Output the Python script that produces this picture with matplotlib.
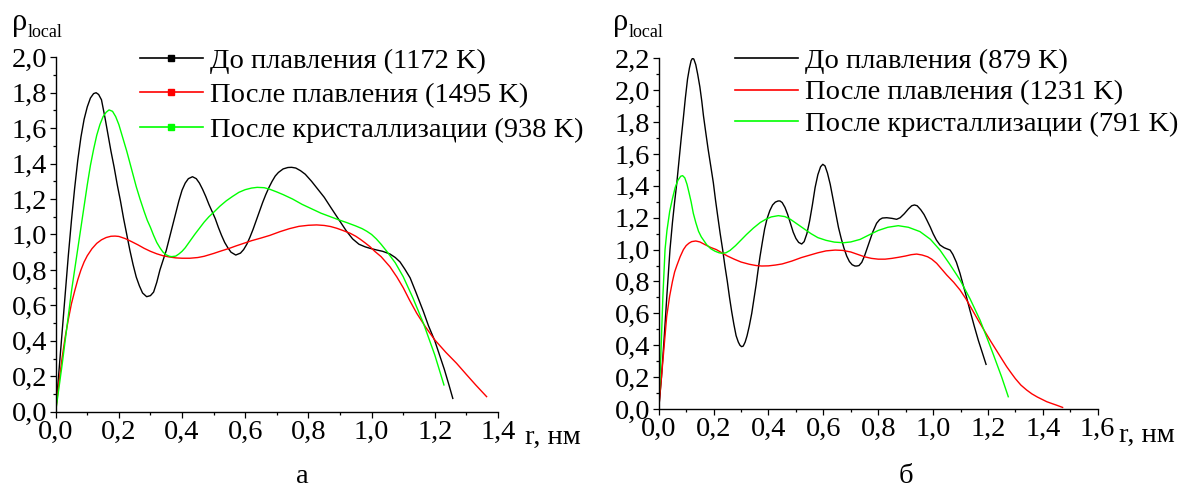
import numpy as np
import matplotlib
matplotlib.use("Agg")
import matplotlib.pyplot as plt
from matplotlib.lines import Line2D
from matplotlib.ticker import MultipleLocator, FuncFormatter

plt.rcParams['font.family'] = ['Liberation Serif', 'DejaVu Serif']

# панель а: до плавления
r_a_black = [0, 0.01, 0.02, 0.03, 0.04, 0.05, 0.06, 0.07, 0.08, 0.09, 0.10, 0.11, 0.12, 0.128,
             0.136, 0.145, 0.156, 0.165, 0.175, 0.185, 0.195, 0.205, 0.215, 0.225, 0.235, 0.245,
             0.255, 0.265, 0.275, 0.288, 0.30, 0.31, 0.32, 0.33, 0.34, 0.35, 0.36, 0.37, 0.38,
             0.39, 0.40, 0.41, 0.42, 0.433, 0.445, 0.455, 0.465, 0.475, 0.485, 0.495, 0.505,
             0.515, 0.525, 0.535, 0.545, 0.555, 0.57, 0.585, 0.595, 0.605, 0.615, 0.625, 0.635,
             0.645, 0.655, 0.665, 0.675, 0.685, 0.695, 0.705, 0.72, 0.735, 0.747, 0.76, 0.775,
             0.79, 0.81, 0.83, 0.85, 0.87, 0.897, 0.92, 0.94, 0.96, 0.98, 0.995, 1.015, 1.035,
             1.058, 1.075, 1.09, 1.105, 1.122, 1.14, 1.164, 1.18, 1.2, 1.215, 1.23, 1.245, 1.257]
v_a_black = [0, 0.22, 0.44, 0.66, 0.88, 1.08, 1.26, 1.42, 1.55, 1.65, 1.72, 1.77, 1.795, 1.80,
             1.79, 1.76, 1.66, 1.57, 1.47, 1.38, 1.28, 1.19, 1.09, 1.0, 0.91, 0.83,
             0.76, 0.71, 0.67, 0.649, 0.655, 0.675, 0.73, 0.80, 0.855, 0.91, 0.98, 1.05, 1.12,
             1.19, 1.25, 1.29, 1.315, 1.326, 1.315, 1.29, 1.255, 1.215, 1.17, 1.13, 1.09,
             1.04, 0.995, 0.955, 0.925, 0.90, 0.884, 0.895, 0.915, 0.945, 0.985, 1.03, 1.08,
             1.13, 1.18, 1.225, 1.265, 1.30, 1.33, 1.35, 1.37, 1.378, 1.379, 1.375, 1.36,
             1.34, 1.30, 1.255, 1.21, 1.155, 1.082, 1.02, 0.975, 0.945, 0.93, 0.922, 0.913, 0.905,
             0.89, 0.87, 0.845, 0.805, 0.755, 0.675, 0.565, 0.485, 0.40, 0.32, 0.24, 0.15, 0.075]

# панель а: после плавления
r_a_red = [0, 0.01, 0.02, 0.03, 0.04, 0.05, 0.06, 0.07, 0.08, 0.09, 0.10, 0.115, 0.13, 0.145,
           0.16, 0.175, 0.188, 0.20, 0.22, 0.24, 0.26, 0.28, 0.30, 0.32, 0.34, 0.36, 0.38, 0.40,
           0.425, 0.45, 0.47, 0.50, 0.52, 0.55, 0.57, 0.60, 0.62, 0.65, 0.678, 0.71, 0.74, 0.77,
           0.80, 0.826, 0.85, 0.87, 0.89, 0.91, 0.932, 0.95, 0.965, 0.98, 0.995, 1.01, 1.03,
           1.058, 1.08, 1.1, 1.12, 1.143, 1.17, 1.2, 1.235, 1.269, 1.3, 1.33, 1.364]
v_a_red = [0, 0.16, 0.30, 0.42, 0.52, 0.61, 0.68, 0.745, 0.80, 0.845, 0.88, 0.92, 0.95, 0.97,
           0.983, 0.99, 0.991, 0.989, 0.977, 0.96, 0.942, 0.922, 0.905, 0.891, 0.88, 0.873, 0.868,
           0.866, 0.866, 0.87, 0.877, 0.893, 0.905, 0.922, 0.935, 0.953, 0.965, 0.98, 0.995, 1.016,
           1.033, 1.046, 1.052, 1.054, 1.051, 1.045, 1.035, 1.022, 1.007, 0.99, 0.972, 0.952,
           0.931, 0.905, 0.875, 0.818, 0.76, 0.70, 0.63, 0.555, 0.48, 0.405, 0.335, 0.273, 0.21,
           0.15, 0.085]

# панель а: после кристаллизации
r_a_green = [0, 0.01, 0.02, 0.03, 0.04, 0.05, 0.06, 0.07, 0.08, 0.09, 0.10, 0.11, 0.12, 0.13,
             0.14, 0.15, 0.16, 0.169, 0.18, 0.19, 0.20, 0.21, 0.225, 0.24, 0.255, 0.267, 0.28,
             0.29, 0.30, 0.31, 0.32, 0.33, 0.34, 0.35, 0.36, 0.367, 0.38, 0.39, 0.40, 0.41, 0.42,
             0.43, 0.44, 0.455, 0.47, 0.485, 0.50, 0.52, 0.54, 0.56, 0.58, 0.60, 0.62, 0.638,
             0.66, 0.678, 0.70, 0.72, 0.75, 0.78, 0.81, 0.84, 0.87, 0.897, 0.92, 0.95, 0.97,
             0.985, 1.0, 1.015, 1.03, 1.048, 1.075, 1.1, 1.13, 1.164, 1.2, 1.229]
v_a_green = [0, 0.13, 0.26, 0.40, 0.54, 0.68, 0.80, 0.92, 1.04, 1.16, 1.28, 1.39, 1.48, 1.56,
             1.62, 1.665, 1.69, 1.703, 1.695, 1.665, 1.62, 1.56, 1.47, 1.37, 1.27, 1.20, 1.13,
             1.08, 1.04, 0.995, 0.955, 0.925, 0.90, 0.885, 0.877, 0.875, 0.878, 0.89, 0.905,
             0.925, 0.95, 0.975, 1.0, 1.035, 1.07, 1.10, 1.125, 1.16, 1.19, 1.215, 1.238, 1.253,
             1.262, 1.266, 1.264, 1.255, 1.24, 1.225, 1.20, 1.17, 1.145, 1.12, 1.10, 1.082, 1.068,
             1.048, 1.033, 1.018, 1.0, 0.975, 0.945, 0.905, 0.84, 0.762, 0.645, 0.499, 0.32, 0.151]

# панель б: до плавления
r_b_black = [0, 0.01, 0.02, 0.03, 0.041, 0.05, 0.058, 0.066, 0.074, 0.082, 0.09, 0.097, 0.105,
             0.112, 0.118, 0.123, 0.128, 0.135, 0.142, 0.15, 0.157, 0.163, 0.171, 0.18, 0.19,
             0.199, 0.207, 0.215, 0.224, 0.233, 0.241, 0.25, 0.258, 0.266, 0.274, 0.282, 0.29,
             0.296, 0.302, 0.308, 0.315, 0.322, 0.33, 0.339, 0.347, 0.355, 0.362, 0.369, 0.378,
             0.386, 0.395, 0.405, 0.415, 0.425, 0.435, 0.442, 0.45, 0.46, 0.47, 0.48, 0.49, 0.50,
             0.51, 0.521, 0.53, 0.54, 0.55, 0.56, 0.57, 0.58, 0.59, 0.598, 0.606, 0.615, 0.625,
             0.635, 0.645, 0.655, 0.665, 0.675, 0.685, 0.695, 0.705, 0.715, 0.722, 0.73, 0.74,
             0.75, 0.76, 0.77, 0.78, 0.794, 0.805, 0.815, 0.831, 0.85, 0.867, 0.88, 0.895, 0.91,
             0.922, 0.932, 0.942, 0.955, 0.967, 0.977, 0.99, 1.0, 1.012, 1.025, 1.04, 1.05, 1.062,
             1.072, 1.085, 1.098, 1.11, 1.122, 1.134, 1.15, 1.165, 1.18, 1.193]
v_b_black = [0, 0.20, 0.45, 0.72, 1.0, 1.17, 1.30, 1.42, 1.56, 1.70, 1.83, 1.95, 2.07,
             2.14, 2.185, 2.20, 2.195, 2.16, 2.10, 2.02, 1.93, 1.84, 1.74, 1.63, 1.52,
             1.42, 1.31, 1.21, 1.10, 1.0, 0.90, 0.80, 0.70, 0.61, 0.53, 0.46, 0.42,
             0.40, 0.391, 0.395, 0.42, 0.46, 0.52, 0.60, 0.69, 0.78, 0.87, 0.955, 1.05,
             1.13, 1.195, 1.245, 1.28, 1.298, 1.305, 1.305, 1.295, 1.265, 1.22, 1.165, 1.11, 1.07,
             1.045, 1.035, 1.05, 1.10, 1.18, 1.28, 1.39, 1.47, 1.52, 1.535, 1.525, 1.48, 1.41,
             1.32, 1.23, 1.14, 1.07, 1.01, 0.96, 0.925, 0.905, 0.897, 0.897, 0.90, 0.92,
             0.96, 1.01, 1.06, 1.11, 1.165, 1.188, 1.198, 1.20, 1.196, 1.19, 1.20, 1.225, 1.255,
             1.275, 1.28, 1.275, 1.25, 1.22, 1.186, 1.14, 1.10, 1.06, 1.029, 1.012, 1.005, 0.997,
             0.97, 0.92, 0.851, 0.775, 0.70, 0.621, 0.52, 0.43, 0.35, 0.28]

# панель б: после плавления
r_b_red = [0, 0.01, 0.02, 0.029, 0.04, 0.05, 0.058, 0.066, 0.078, 0.09, 0.10, 0.11, 0.12, 0.135,
           0.15, 0.17, 0.19, 0.21, 0.23, 0.25, 0.275, 0.30, 0.33, 0.355, 0.375, 0.40, 0.425,
           0.45, 0.485, 0.52, 0.55, 0.58, 0.61, 0.643, 0.67, 0.70, 0.725, 0.75, 0.775, 0.80,
           0.825, 0.85, 0.875, 0.90, 0.92, 0.94, 0.96, 0.98, 0.995, 1.013, 1.03, 1.05, 1.075,
           1.098, 1.12, 1.14, 1.165, 1.189, 1.21, 1.23, 1.25, 1.268, 1.285, 1.30, 1.32, 1.341,
           1.36, 1.38, 1.40, 1.414, 1.43, 1.45, 1.472]
v_b_red = [0, 0.20, 0.40, 0.58, 0.71, 0.80, 0.86, 0.90, 0.955, 1.0, 1.025, 1.04, 1.05, 1.054,
           1.048, 1.03, 1.013, 1.0, 0.98, 0.96, 0.94, 0.922, 0.908, 0.90, 0.897, 0.898, 0.903,
           0.91, 0.928, 0.95, 0.965, 0.98, 0.992, 0.997, 0.995, 0.985, 0.97, 0.955, 0.945, 0.94,
           0.94, 0.945, 0.952, 0.96, 0.968, 0.972, 0.966, 0.955, 0.94, 0.914, 0.88, 0.84, 0.795,
           0.747, 0.69, 0.63, 0.555, 0.485, 0.425, 0.37, 0.315, 0.266, 0.225, 0.19, 0.15, 0.119,
           0.095, 0.075, 0.058, 0.046, 0.036, 0.024, 0.01]

# панель б: после кристаллизации
r_b_green = [0, 0.008, 0.015, 0.023, 0.03, 0.04, 0.05, 0.06, 0.07, 0.08, 0.087, 0.095, 0.103,
             0.11, 0.118, 0.126, 0.135, 0.145, 0.155, 0.163, 0.175, 0.19, 0.205, 0.22, 0.23,
             0.245, 0.26, 0.28, 0.30, 0.32, 0.345, 0.37, 0.39, 0.41, 0.436, 0.46, 0.48, 0.505,
             0.53, 0.555, 0.58, 0.61, 0.64, 0.673, 0.70, 0.734, 0.77, 0.80, 0.835, 0.873, 0.91,
             0.952, 0.99, 1.025, 1.06, 1.098, 1.135, 1.171, 1.2, 1.22, 1.25, 1.274]
v_b_green = [0, 0.35, 0.70, 1.0, 1.12, 1.24, 1.32, 1.39, 1.435, 1.46, 1.464, 1.45, 1.41,
             1.36, 1.30, 1.228, 1.17, 1.115, 1.08, 1.06, 1.03, 1.005, 0.99, 0.98, 0.977,
             0.98, 0.995, 1.025, 1.06, 1.095, 1.135, 1.17, 1.19, 1.205, 1.213, 1.207, 1.19, 1.16,
             1.13, 1.10, 1.075, 1.058, 1.047, 1.043, 1.048, 1.064, 1.095, 1.12, 1.14, 1.15, 1.14,
             1.113, 1.065, 0.997, 0.91, 0.81, 0.69, 0.558, 0.43, 0.34, 0.20, 0.077]

labels_a = ['До плавления (1172 K)', 'После плавления (1495 K)', 'После кристаллизации (938 K)']
labels_b = ['До плавления (879 K)', 'После плавления (1231 K)', 'После кристаллизации (791 K)']
colors = ['black', '#ff0000', '#00ff00']

FS = 20.5
fig = plt.figure(figsize=(11.82, 4.90), dpi=100)
ax1 = fig.add_axes([0.0471, 0.1598, 0.3742, 0.7233])
ax2 = fig.add_axes([0.5573, 0.1653, 0.3714, 0.7157])

comma = FuncFormatter(lambda v, p: f"{v:.1f}".replace('.', ','))


def style(ax, xmax, ymax):
    ax.set_xlim(0, xmax)
    ax.set_ylim(0, ymax)
    ax.spines['top'].set_visible(False)
    ax.spines['right'].set_visible(False)
    for s in ('left', 'bottom'):
        ax.spines[s].set_linewidth(1.0)
    ax.xaxis.set_major_locator(MultipleLocator(0.2))
    ax.xaxis.set_minor_locator(MultipleLocator(0.1))
    ax.yaxis.set_major_locator(MultipleLocator(0.2))
    ax.yaxis.set_minor_locator(MultipleLocator(0.1))
    ax.xaxis.set_major_formatter(comma)
    ax.yaxis.set_major_formatter(comma)
    ax.tick_params(which='major', direction='out', length=4, width=0.9, labelsize=FS, pad=2)
    ax.tick_params(which='minor', direction='out', length=2.5, width=0.9)


style(ax1, 1.4, 2.0)
style(ax2, 1.6, 2.2)

for r, v, c in [(r_a_black, v_a_black, colors[0]), (r_a_red, v_a_red, colors[1]),
                (r_a_green, v_a_green, colors[2])]:
    ax1.plot(r, v, color=c, lw=1.0)
for r, v, c in [(r_b_black, v_b_black, colors[0]), (r_b_red, v_b_red, colors[1]),
                (r_b_green, v_b_green, colors[2])]:
    ax2.plot(r, v, color=c, lw=1.0)

h_a = [Line2D([], [], color=c, lw=1.2, marker='s', markersize=4) for c in colors]
h_b = [Line2D([], [], color=c, lw=1.2) for c in colors]
fig.legend(h_a, labels_a, loc='upper left', bbox_to_anchor=(0.1184, 0.902), frameon=False,
           fontsize=FS, handlelength=2.2, handletextpad=0.25, labelspacing=0.3,
           borderpad=0, borderaxespad=0)
fig.legend(h_b, labels_b, loc='upper left', bbox_to_anchor=(0.6218, 0.902), frameon=False,
           fontsize=FS, handlelength=2.2, handletextpad=0.25, labelspacing=0.2,
           borderpad=0, borderaxespad=0)

# подписи осей
for x0, y0 in [(12 / 1182, 1 - 30 / 490), (613 / 1182, 1 - 30 / 490)]:
    fig.text(x0, y0, 'ρ', fontsize=22, ha='left', va='baseline')
    fig.text(x0 + 16 / 1182, y0 - 7 / 490, 'local', fontsize=13, ha='left', va='baseline')
fig.text(525 / 1182, 1 - 437 / 490, 'r, нм', fontsize=FS, ha='left', va='center')
fig.text(1119 / 1182, 1 - 435 / 490, 'r, нм', fontsize=FS, ha='left', va='center')
fig.text(302 / 1182, 1 - 476 / 490, 'а', fontsize=FS, ha='center', va='center')
fig.text(906 / 1182, 1 - 476 / 490, 'б', fontsize=FS, ha='center', va='center')

fig.savefig('out.png', dpi=100)
